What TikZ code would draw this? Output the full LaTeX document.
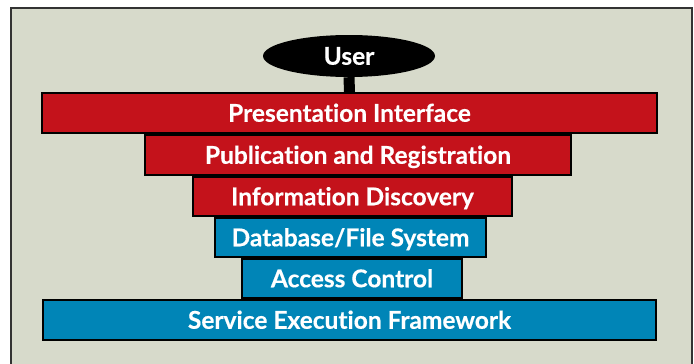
\documentclass[tikz,border=0pt]{standalone}
\usepackage{fontspec}
\setmainfont{Lato}[Ligatures={NoCommon,NoRare}, BoldFeatures={FakeBold=0.4}]
\usetikzlibrary{shapes.geometric}
\definecolor{panelbg}{HTML}{D7DACB}
\definecolor{layerred}{HTML}{C4121B}
\definecolor{layerblue}{HTML}{0085B7}
\begin{document}
\begin{tikzpicture}[x=1pt,y=-1pt,
  labelfont/.style={text=white, font=\fontsize{24.5}{28}\selectfont\bfseries},
  layer/.style={draw=black, line width=2pt, rectangle, inner sep=0pt,
    minimum height=40pt, labelfont, text height=17.5pt, text depth=0pt},
  redlayer/.style={layer, fill=layerred},
  bluelayer/.style={layer, fill=layerblue}]
\useasboundingbox (0,0) rectangle (694,364);
% panel
\draw[line width=1.5pt, draw=black!80, fill=panelbg] (11,8) rectangle (692,372);
% stack of layers, top to bottom
\node[redlayer, minimum width=615pt] (pres) at (349.5,113) {Presentation Interface};
\node[redlayer, minimum width=426pt] (pub)  at (358,155) {Publication and Registration};
\node[redlayer, minimum width=319pt, minimum height=39pt] (info) at (352.5,196.5) {Information Discovery};
\node[bluelayer, minimum width=271pt, minimum height=39pt] (db) at (350.5,237.5) {Database/File System};
\node[bluelayer, minimum width=220pt, minimum height=39pt] (acc) at (352,278.5) {Access Control};
\node[bluelayer, minimum width=613pt] (sef) at (349.5,320) {Service Execution Framework};
% user on top
\node[ellipse, fill=black, inner sep=0pt, minimum width=172pt, minimum height=42pt,
  labelfont, text height=17.5pt, text depth=0pt] (user) at (349,56) {User};
\draw[line width=11pt] (user.south) -- (pres.north);
\end{tikzpicture}
\end{document}
